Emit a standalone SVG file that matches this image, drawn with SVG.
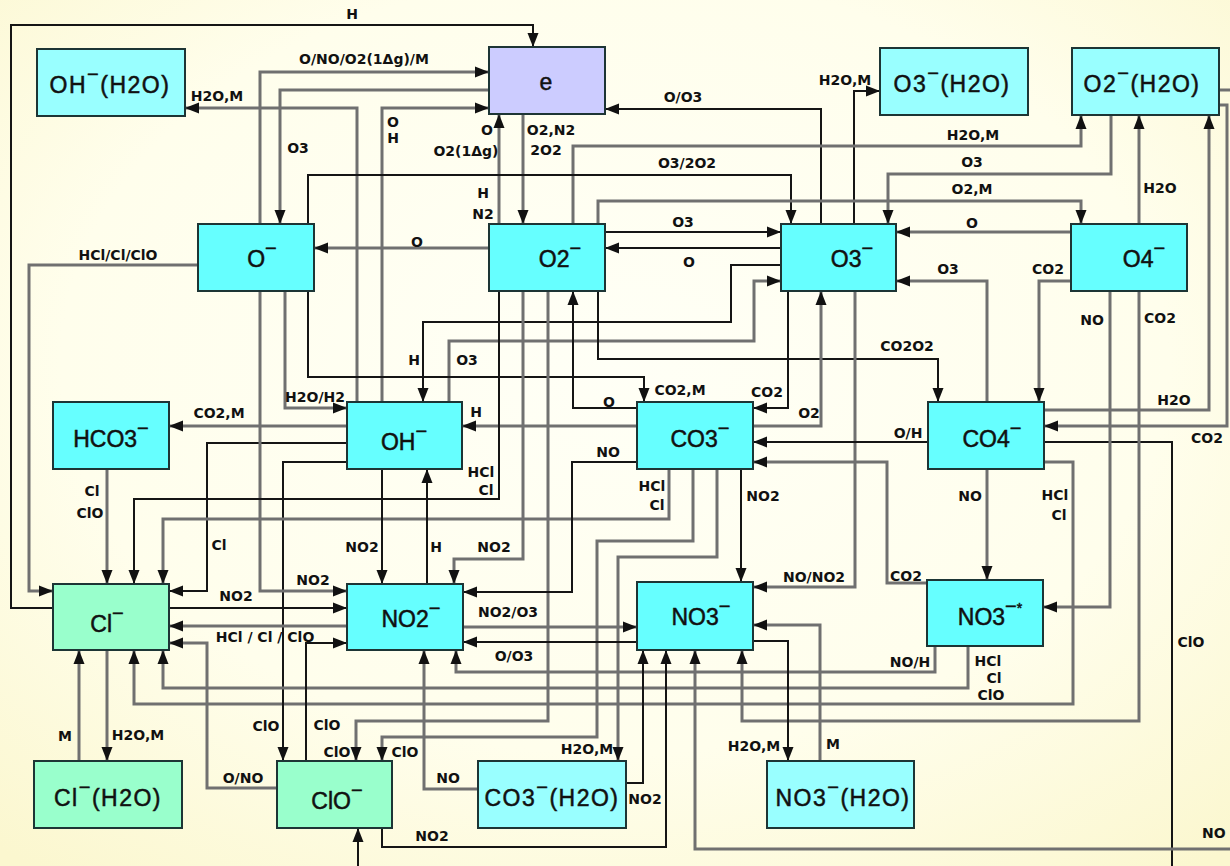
<svg xmlns="http://www.w3.org/2000/svg" width="1230" height="866" viewBox="0 0 1230 866">
<defs>
<radialGradient id="bg" cx="50%" cy="42%" r="75%">
<stop offset="0" stop-color="#fffff6"/>
<stop offset="0.6" stop-color="#fffeec"/>
<stop offset="1" stop-color="#fbf7cf"/>
</radialGradient>
<marker id="a" markerUnits="userSpaceOnUse" markerWidth="14" markerHeight="12" refX="14" refY="6" orient="auto">
<path d="M0,0.5 L14,6 L0,11.5 z" fill="#111"/>
</marker>
<style>
.k{fill:none;stroke:#151515;stroke-width:2;marker-end:url(#a)}
.g{fill:none;stroke:#707070;stroke-width:3;marker-end:url(#a)}
.g0{fill:none;stroke:#707070;stroke-width:3}
.n{stroke:#1d3535;stroke-width:2}
.c1{fill:#66ffff}.c2{fill:#99ffff}.c3{fill:#99ffcc}.c4{fill:#ccccff}
.t{font-family:"Liberation Sans",Arial,sans-serif;font-size:23px;fill:#111;stroke:#111;stroke-width:0.5;text-anchor:middle}
.h{letter-spacing:1.5px}
.l{font-family:"DejaVu Sans",sans-serif;font-weight:bold;font-size:14px;fill:#111;text-anchor:middle}
</style>
</defs>
<rect width="1230" height="866" fill="url(#bg)"/>

<g id="connectors">
<polyline class="k" points="53,608 11,608 11,25 533,25 533,47"/>
<polyline class="g" points="260,224 260,72 489,72"/>
<polyline class="g" points="489,90 280,90 280,224"/>
<polyline class="g" points="357,402 357,108 185,108"/>
<polyline class="g" points="382,402 382,108 489,108"/>
<polyline class="g" points="523,114 523,224"/>
<polyline class="g" points="499,224 499,114"/>
<polyline class="k" points="821,224 821,109 605,109"/>
<polyline class="k" points="854,224 854,91 880,91"/>
<polyline class="g" points="573,224 573,146 1081,146 1081,115"/>
<polyline class="k" points="308,224 308,175 791,175 791,224"/>
<polyline class="g" points="1111,115 1111,174 888,174 888,224"/>
<polyline class="g" points="598,224 598,201 1081,201 1081,224"/>
<polyline class="g" points="1139,224 1139,115"/>
<polyline class="g" points="1071,232 896,232"/>
<polyline class="k" points="605,232 781,232"/>
<polyline class="k" points="781,248 605,248"/>
<polyline class="g" points="489,248 314,248"/>
<polyline class="g" points="198,265 29,265 29,591 53,591"/>
<polyline class="g" points="1071,281 1039,281 1039,402"/>
<polyline class="g" points="987,402 987,281 896,281"/>
<polyline class="k" points="781,265 731,265 731,322 423,322 423,402"/>
<polyline class="g" points="449,402 449,341 754,341 754,281 781,281"/>
<polyline class="k" points="598,291 598,359 938,359 938,402"/>
<polyline class="k" points="308,291 308,377 644,377 644,402"/>
<polyline class="k" points="637,408 573,408 573,291"/>
<polyline class="g" points="753,426 821,426 821,291"/>
<polyline class="k" points="788,291 788,408 753,408"/>
<polyline class="g" points="855,291 855,587 753,587"/>
<polyline class="k" points="928,442 753,442"/>
<polyline class="g" points="927,583 887,583 887,462 753,462"/>
<polyline class="g" points="987,469 987,580"/>
<polyline class="g" points="1044,462 1073,462 1073,704 134,704 134,650"/>
<polyline class="k" points="1044,442 1172,442 1172,872 358,872 358,828"/>
<polyline class="g" points="1044,410 1209,410 1209,115"/>
<polyline class="g" points="1219,105 1227,105 1227,426 1044,426"/>
<polyline class="g0" points="1219,90 1232,90"/>
<polyline class="g" points="1110,291 1110,607 1043,607"/>
<polyline class="g" points="1139,291 1139,721 742,721 742,650"/>
<polyline class="g" points="637,426 462,426"/>
<polyline class="g" points="347,426 169,426"/>
<polyline class="g" points="285,291 285,408 347,408"/>
<polyline class="k" points="347,443 207,443 207,591 169,591"/>
<polyline class="k" points="347,462 283,462 283,761"/>
<polyline class="g" points="260,291 260,591 347,591"/>
<polyline class="g" points="107,469 107,584"/>
<polyline class="k" points="499,291 499,499 134,499 134,584"/>
<polyline class="g" points="669,469 669,519 163,519 163,584"/>
<polyline class="k" points="382,469 382,584"/>
<polyline class="k" points="427,584 427,469"/>
<polyline class="g" points="523,291 523,559 454,559 454,584"/>
<polyline class="g" points="548,291 548,721 356,721 356,761"/>
<polyline class="g" points="693,469 693,541 597,541 597,737 382,737 382,761"/>
<polyline class="k" points="637,462 572,462 572,592 463,592"/>
<polyline class="g" points="717,469 717,557 618,557 618,761"/>
<polyline class="k" points="741,469 741,582"/>
<polyline class="g" points="463,627 637,627"/>
<polyline class="k" points="637,642 463,642"/>
<polyline class="g" points="935,646 935,672 456,672 456,650"/>
<polyline class="g" points="968,646 968,688 163,688 163,650"/>
<polyline class="k" points="169,608 347,608"/>
<polyline class="g" points="347,626 169,626"/>
<polyline class="g" points="277,788 207,788 207,643 169,643"/>
<polyline class="k" points="306,761 306,643 347,643"/>
<polyline class="g" points="107,650 107,761"/>
<polyline class="g" points="79,761 79,650"/>
<polyline class="g" points="478,789 424,789 424,650"/>
<polyline class="k" points="626,783 643,783 643,650"/>
<polyline class="k" points="382,828 382,847 666,847 666,650"/>
<polyline class="g" points="1232,849 695,849 695,650"/>
<polyline class="k" points="753,641 788,641 788,761"/>
<polyline class="g" points="820,761 820,625 753,625"/>
</g>

<g id="connector-labels">
<text class="l" x="352" y="19">H</text>
<text class="l" x="364" y="64">O/NO/O2(1Δg)/M</text>
<text class="l" x="217" y="101">H2O,M</text>
<text class="l" x="298" y="153">O3</text>
<text class="l" x="393" y="127">O</text>
<text class="l" x="393" y="143">H</text>
<text class="l" x="551" y="135">O2,N2</text>
<text class="l" x="546" y="155">2O2</text>
<text class="l" x="487" y="135">O</text>
<text class="l" x="466" y="156">O2(1Δg)</text>
<text class="l" x="483" y="198">H</text>
<text class="l" x="483" y="219">N2</text>
<text class="l" x="683" y="102">O/O3</text>
<text class="l" x="845" y="85">H2O,M</text>
<text class="l" x="687" y="168">O3/2O2</text>
<text class="l" x="683" y="227">O3</text>
<text class="l" x="689" y="267">O</text>
<text class="l" x="417" y="247">O</text>
<text class="l" x="118" y="260">HCl/Cl/ClO</text>
<text class="l" x="973" y="140">H2O,M</text>
<text class="l" x="972" y="167">O3</text>
<text class="l" x="972" y="194">O2,M</text>
<text class="l" x="972" y="228">O</text>
<text class="l" x="1160" y="193">H2O</text>
<text class="l" x="948" y="274">O3</text>
<text class="l" x="1048" y="274">CO2</text>
<text class="l" x="1092" y="325">NO</text>
<text class="l" x="1160" y="323">CO2</text>
<text class="l" x="907" y="351">CO2O2</text>
<text class="l" x="414" y="365">H</text>
<text class="l" x="467" y="365">O3</text>
<text class="l" x="315" y="402">H2O/H2</text>
<text class="l" x="680" y="395">CO2,M</text>
<text class="l" x="767" y="397">CO2</text>
<text class="l" x="609" y="407">O</text>
<text class="l" x="809" y="418">O2</text>
<text class="l" x="219" y="418">CO2,M</text>
<text class="l" x="476" y="417">H</text>
<text class="l" x="908" y="438">O/H</text>
<text class="l" x="1174" y="405">H2O</text>
<text class="l" x="1207" y="443">CO2</text>
<text class="l" x="608" y="457">NO</text>
<text class="l" x="481" y="477">HCl</text>
<text class="l" x="486" y="495">Cl</text>
<text class="l" x="652" y="491">HCl</text>
<text class="l" x="657" y="510">Cl</text>
<text class="l" x="763" y="501">NO2</text>
<text class="l" x="970" y="501">NO</text>
<text class="l" x="1055" y="500">HCl</text>
<text class="l" x="1059" y="520">Cl</text>
<text class="l" x="92" y="496">Cl</text>
<text class="l" x="90" y="518">ClO</text>
<text class="l" x="219" y="550">Cl</text>
<text class="l" x="362" y="552">NO2</text>
<text class="l" x="436" y="552">H</text>
<text class="l" x="494" y="552">NO2</text>
<text class="l" x="236" y="601">NO2</text>
<text class="l" x="313" y="585">NO2</text>
<text class="l" x="265" y="642">HCl / Cl / ClO</text>
<text class="l" x="508" y="617">NO2/O3</text>
<text class="l" x="514" y="661">O/O3</text>
<text class="l" x="814" y="582">NO/NO2</text>
<text class="l" x="906" y="581">CO2</text>
<text class="l" x="910" y="667">NO/H</text>
<text class="l" x="988" y="666">HCl</text>
<text class="l" x="994" y="683">Cl</text>
<text class="l" x="991" y="700">ClO</text>
<text class="l" x="1191" y="647">ClO</text>
<text class="l" x="1202" y="838" style="text-anchor:start">NO</text>
<text class="l" x="65" y="741">M</text>
<text class="l" x="138" y="740">H2O,M</text>
<text class="l" x="243" y="783">O/NO</text>
<text class="l" x="266" y="731">ClO</text>
<text class="l" x="327" y="730">ClO</text>
<text class="l" x="337" y="757">ClO</text>
<text class="l" x="405" y="757">ClO</text>
<text class="l" x="448" y="783">NO</text>
<text class="l" x="432" y="841">NO2</text>
<text class="l" x="587" y="754">H2O,M</text>
<text class="l" x="645" y="804">NO2</text>
<text class="l" x="754" y="751">H2O,M</text>
<text class="l" x="833" y="749">M</text>
</g>

<g id="node-OH-H2O"><rect class="n c2" x="37" y="49" width="148" height="67"/><text class="t h" x="110" y="93">OH<tspan dy="-12" font-size="20">−</tspan><tspan dy="12">(H2O)</tspan></text></g>
<g id="node-e"><rect class="n c4" x="489" y="47" width="116" height="67"/><text class="t" x="546" y="90">e</text></g>
<g id="node-O3-H2O"><rect class="n c2" x="880" y="48" width="148" height="67"/><text class="t h" x="952" y="92">O3<tspan dy="-12" font-size="20">−</tspan><tspan dy="12">(H2O)</tspan></text></g>
<g id="node-O2-H2O"><rect class="n c2" x="1072" y="48" width="147" height="67"/><text class="t h" x="1142" y="92">O2<tspan dy="-12" font-size="20">−</tspan><tspan dy="12">(H2O)</tspan></text></g>
<g id="node-O"><rect class="n c1" x="198" y="224" width="116" height="67"/><text class="t" x="262" y="267">O<tspan dy="-12" font-size="20">−</tspan></text></g>
<g id="node-O2"><rect class="n c1" x="489" y="224" width="116" height="67"/><text class="t" x="560" y="267">O2<tspan dy="-12" font-size="20">−</tspan></text></g>
<g id="node-O3"><rect class="n c1" x="781" y="224" width="115" height="67"/><text class="t" x="852" y="267">O3<tspan dy="-12" font-size="20">−</tspan></text></g>
<g id="node-O4"><rect class="n c1" x="1071" y="224" width="116" height="67"/><text class="t" x="1144" y="267">O4<tspan dy="-12" font-size="20">−</tspan></text></g>
<g id="node-HCO3"><rect class="n c1" x="53" y="402" width="116" height="67"/><text class="t" x="111" y="447">HCO3<tspan dy="-12" font-size="20">−</tspan></text></g>
<g id="node-OH"><rect class="n c1" x="347" y="402" width="115" height="67"/><text class="t" x="404" y="450">OH<tspan dy="-12" font-size="20">−</tspan></text></g>
<g id="node-CO3"><rect class="n c1" x="637" y="402" width="116" height="67"/><text class="t" x="700" y="447">CO3<tspan dy="-12" font-size="20">−</tspan></text></g>
<g id="node-CO4"><rect class="n c1" x="928" y="402" width="116" height="67"/><text class="t" x="992" y="447">CO4<tspan dy="-12" font-size="20">−</tspan></text></g>
<g id="node-Cl"><rect class="n c3" x="53" y="584" width="116" height="66"/><text class="t" x="107" y="632">Cl<tspan dy="-12" font-size="20">−</tspan></text></g>
<g id="node-NO2"><rect class="n c1" x="347" y="584" width="116" height="66"/><text class="t" x="411" y="627">NO2<tspan dy="-12" font-size="20">−</tspan></text></g>
<g id="node-NO3"><rect class="n c1" x="637" y="582" width="116" height="68"/><text class="t" x="701" y="625">NO3<tspan dy="-12" font-size="20">−</tspan></text></g>
<g id="node-NO3star"><rect class="n c1" x="927" y="580" width="116" height="66"/><text class="t" x="990" y="625">NO3<tspan dy="-12" font-size="20">−</tspan><tspan font-size="14">*</tspan></text></g>
<g id="node-Cl-H2O"><rect class="n c3" x="34" y="761" width="148" height="67"/><text class="t h" x="108" y="806">Cl<tspan dy="-12" font-size="20">−</tspan><tspan dy="12">(H2O)</tspan></text></g>
<g id="node-ClO"><rect class="n c3" x="277" y="761" width="115" height="67"/><text class="t" x="337" y="809">ClO<tspan dy="-12" font-size="20">−</tspan></text></g>
<g id="node-CO3-H2O"><rect class="n c2" x="478" y="761" width="148" height="67"/><text class="t h" x="552" y="806">CO3<tspan dy="-12" font-size="20">−</tspan><tspan dy="12">(H2O)</tspan></text></g>
<g id="node-NO3-H2O"><rect class="n c2" x="767" y="761" width="147" height="67"/><text class="t h" x="843" y="806">NO3<tspan dy="-12" font-size="20">−</tspan><tspan dy="12">(H2O)</tspan></text></g>
</svg>
